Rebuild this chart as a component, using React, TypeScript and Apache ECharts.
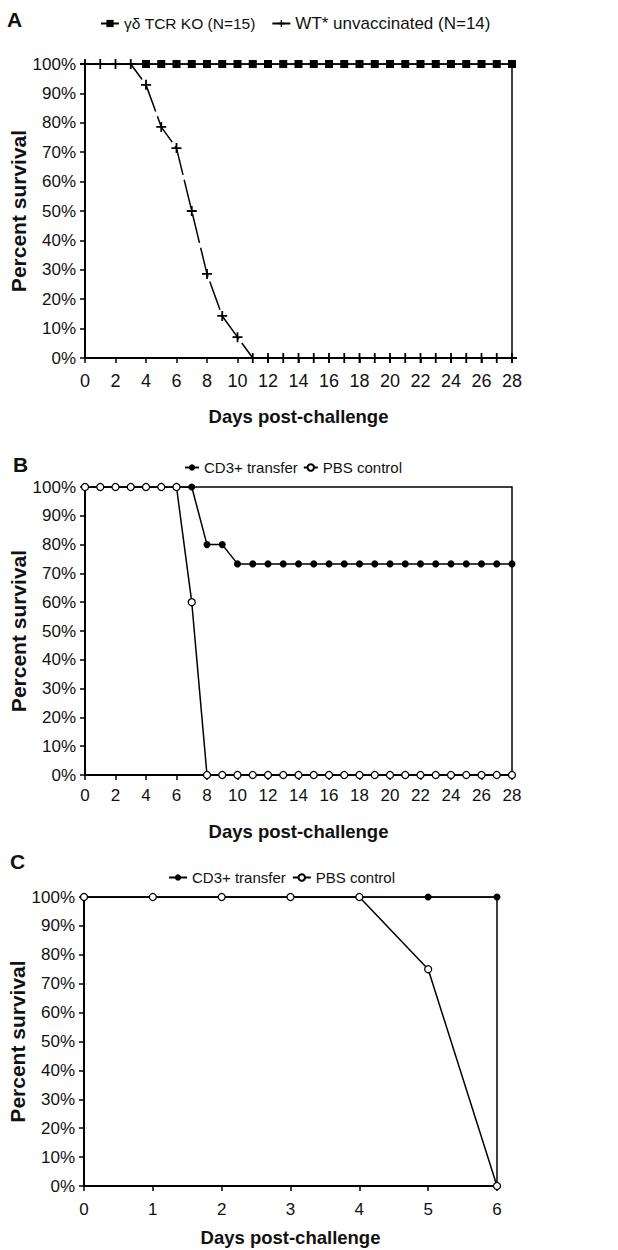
import React, { useEffect, useRef } from "react";
import * as echarts from "echarts";

// ---------- data ----------
const daysAB = [0, 1, 2, 3, 4, 5, 6, 7, 8, 9, 10, 11, 12, 13, 14, 15, 16, 17, 18, 19, 20, 21, 22, 23, 24, 25, 26, 27, 28];
const daysC = [0, 1, 2, 3, 4, 5, 6];

const koA = [100, 100, 100, 100, 100, 100, 100, 100, 100, 100, 100, 100, 100, 100, 100, 100, 100, 100, 100, 100, 100, 100, 100, 100, 100, 100, 100, 100, 100];
const wtA = [100, 100, 100, 100, 92.9, 78.6, 71.4, 50, 28.6, 14.3, 7.1, 0, 0, 0, 0, 0, 0, 0, 0, 0, 0, 0, 0, 0, 0, 0, 0, 0, 0];

const cd3B = [100, 100, 100, 100, 100, 100, 100, 100, 80, 80, 73.3, 73.3, 73.3, 73.3, 73.3, 73.3, 73.3, 73.3, 73.3, 73.3, 73.3, 73.3, 73.3, 73.3, 73.3, 73.3, 73.3, 73.3, 73.3];
const pbsB = [100, 100, 100, 100, 100, 100, 100, 60, 0, 0, 0, 0, 0, 0, 0, 0, 0, 0, 0, 0, 0, 0, 0, 0, 0, 0, 0, 0, 0];

const cd3C = [100, 100, 100, 100, 100, 100, 100];
const pbsC = [100, 100, 100, 100, 100, 75, 0];

const koStart = 4; // first day with a visible KO marker

const legendA = ["γδ TCR KO (N=15)", "WT* unvaccinated (N=14)"];
const legendBC = ["CD3+ transfer", "PBS control"];
const panelLetters = ["A", "B", "C"];
const xTitle = "Days post-challenge";
const yTitle = "Percent survival";

// ---------- styles ----------
const SANS = "'Liberation Sans', Arial, sans-serif";
const PLUS = "path://M0,4.1H10V5.9H0Z M4.1,0H5.9V10H4.1Z";

const pairs = (xs: number[], ys: number[]) => xs.map((x, i) => [x, ys[i]]);

function xAxisOpt(grid: number, max: number, interval: number, labelSize: number, margin: number, nameGap: number) {
  return {
    type: "value",
    gridIndex: grid,
    min: 0,
    max,
    interval,
    name: xTitle,
    nameLocation: "middle",
    nameGap,
    nameMoveOverlap: false,
    nameTextStyle: { fontFamily: SANS, fontWeight: "bold", fontSize: 18.5, color: "#111" },
    axisLine: { show: true, onZero: false, lineStyle: { color: "#000", width: 2 } },
    axisTick: { show: true, inside: false, length: 5, lineStyle: { color: "#000", width: 1.5 } },
    axisLabel: { color: "#111", fontFamily: SANS, fontSize: labelSize, margin },
    splitLine: { show: false },
  };
}

function yAxisOpt(grid: number) {
  return {
    type: "value",
    gridIndex: grid,
    min: 0,
    max: 100,
    interval: 10,
    name: yTitle,
    nameLocation: "middle",
    nameRotate: 90,
    nameGap: 56,
    nameMoveOverlap: false,
    nameTextStyle: { fontFamily: SANS, fontWeight: "bold", fontSize: 21, color: "#111" },
    axisLine: { show: true, onZero: false, lineStyle: { color: "#000", width: 2 } },
    axisTick: { show: true, inside: false, length: 5, lineStyle: { color: "#000", width: 1.5 } },
    axisLabel: { color: "#111", fontFamily: SANS, fontSize: 17, margin: 9, formatter: "{value}%" },
    splitLine: { show: false },
  };
}

const lineStyle = { color: "#000", width: 1.5 };
const gridBase = { show: true, borderColor: "#000", borderWidth: 1.5, outerBoundsMode: "none", containLabel: false };

export default function App() {
  const ref = useRef<HTMLDivElement>(null);
  useEffect(() => {
    if (!ref.current) return;
    const chart = echarts.init(ref.current, undefined, { renderer: "svg" });
    const legendText = { fontFamily: SANS, fontSize: 15, color: "#111" };
    const option = {
      animation: false,
      backgroundColor: "#fff",
      grid: [
        { ...gridBase, left: 85, top: 64, width: 427, height: 294 },
        { ...gridBase, left: 85, top: 487, width: 427, height: 288 },
        { ...gridBase, left: 84, top: 897, width: 413, height: 289 },
      ],
      legend: [
        {
          data: [
            { name: legendA[0], textStyle: { fontFamily: SANS, color: "#111", fontSize: 15.5 } },
            { name: legendA[1], textStyle: { fontFamily: SANS, color: "#111", fontSize: 17 } },
          ],
          left: 95, top: 10, itemWidth: 18, itemHeight: 9, itemGap: 16, textStyle: legendText,
        },
        { data: legendBC, left: 179, top: 455, itemWidth: 14, itemHeight: 8, itemGap: 5, textStyle: legendText },
        { data: legendBC, left: 163, top: 865, itemWidth: 18, itemHeight: 8, itemGap: 6, textStyle: legendText },
      ],
      xAxis: [
        xAxisOpt(0, 28, 2, 18, 14, 49),
        xAxisOpt(1, 28, 2, 17, 12, 47),
        xAxisOpt(2, 6, 1, 17, 15, 42),
      ],
      yAxis: [yAxisOpt(0), yAxisOpt(1), yAxisOpt(2)],
      series: [
        {
          name: legendA[0], type: "line", xAxisIndex: 0, yAxisIndex: 0,
          data: daysAB.map((d, i) => ({ value: [d, koA[i]], symbolSize: d < koStart ? 0 : 8 })),
          symbol: "rect", symbolSize: 8, itemStyle: { color: "#000" }, lineStyle, z: 3,
        },
        {
          name: legendA[1], type: "line", xAxisIndex: 0, yAxisIndex: 0,
          data: pairs(daysAB, wtA),
          symbol: PLUS, symbolSize: 10, itemStyle: { color: "#000" },
          lineStyle: { color: "#000", width: 1.5, type: [30, 5] }, z: 4,
        },
        {
          name: legendBC[0], type: "line", xAxisIndex: 1, yAxisIndex: 1,
          data: pairs(daysAB, cd3B),
          symbol: "circle", symbolSize: 7, itemStyle: { color: "#000" }, lineStyle, z: 3,
        },
        {
          name: legendBC[1], type: "line", xAxisIndex: 1, yAxisIndex: 1,
          data: pairs(daysAB, pbsB),
          symbol: "circle", symbolSize: 7, itemStyle: { color: "#fff", borderColor: "#000", borderWidth: 1.3 }, lineStyle, z: 4,
        },
        {
          name: legendBC[0], type: "line", xAxisIndex: 2, yAxisIndex: 2,
          data: pairs(daysC, cd3C),
          symbol: "circle", symbolSize: 7, itemStyle: { color: "#000" }, lineStyle, z: 3,
        },
        {
          name: legendBC[1], type: "line", xAxisIndex: 2, yAxisIndex: 2,
          data: pairs(daysC, pbsC),
          symbol: "circle", symbolSize: 7, itemStyle: { color: "#fff", borderColor: "#000", borderWidth: 1.3 }, lineStyle, z: 4,
        },
      ],
      graphic: [
        { type: "text", left: 7, top: 9, style: { text: panelLetters[0], font: `bold 21px ${SANS}`, fill: "#111" } },
        { type: "text", left: 13, top: 454, style: { text: panelLetters[1], font: `bold 21px ${SANS}`, fill: "#111" } },
        { type: "text", left: 10, top: 851, style: { text: panelLetters[2], font: `bold 21px ${SANS}`, fill: "#111" } },
      ],
    };
    chart.setOption(option as any);
    return () => chart.dispose();
  }, []);
  return (
    <div
      ref={ref}
      style={{ position: "absolute", left: 0, top: 0, width: 618, height: 1250, background: "#fff" }}
    />
  );
}
